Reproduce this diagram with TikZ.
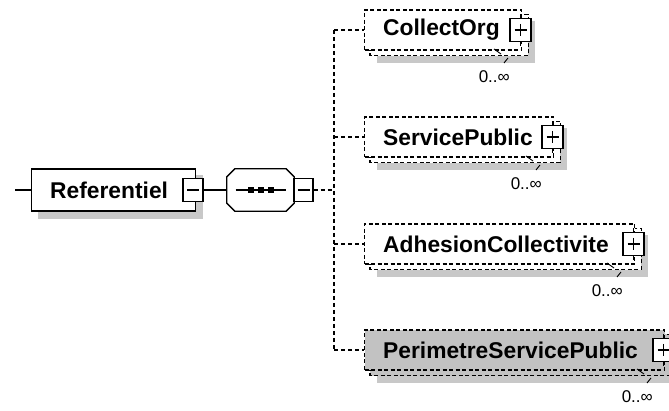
\documentclass[tikz,border=0pt]{standalone}
\usepackage{fontspec}
\setmainfont{Liberation Sans}
\usepackage{tikz}
\usetikzlibrary{positioning,backgrounds}

\definecolor{shadowgray}{RGB}{200,200,200}
\definecolor{optfill}{RGB}{194,194,194}

\tikzset{
  box/.style={draw, line width=1.3pt, inner sep=0pt, anchor=west},
  optline/.style={line width=1.2pt, dash pattern=on 4pt off 2.5pt},
  optional/.style={box, optline},
  name text/.style={font=\bfseries\fontsize{22.8}{26}\selectfont, inner sep=0pt},
  occurs/.style={font=\fontsize{17}{20}\selectfont, inner sep=0pt, anchor=east},
  toggle/.style={draw, fill=white, line width=1.3pt, minimum width=20, minimum height=23, inner sep=0pt},
  link/.style={line width=1.3pt},
  optlink/.style={line width=1.2pt, dash pattern=on 4pt off 3pt},
  octshadow/.style={fill=shadowgray},
  octbody/.style={link, draw, fill=white},
}

\begin{document}
\begin{tikzpicture}[x=1pt, y=-1pt]
\useasboundingbox (0,0) rectangle (669,411);
\clip (0,0) rectangle (669,411);

% root element
\coordinate (start) at (15,190);
\node [box, fill=white, minimum width=164, minimum height=42] (ref) at (31,190) {};
\begin{scope}[on background layer]
  \fill [shadowgray] ([shift={(7,7)}]ref.north west) rectangle ([shift={(7,7)}]ref.south east);
\end{scope}
\node [name text, right=19pt of ref.west] (ref-t) {Referentiel};
\node [toggle] (ref-x) at (193,190) {};
\draw [link] (ref-x.center) +(-6,0) -- +(6,0);

% sequence
\node [inner sep=0pt, minimum width=67, minimum height=42] (seq) at (260.5,190) {};
\foreach \s/\sty in {7/octshadow, 0/octbody}
  \path [\sty, shift={(\s,\s)}]
    ([shift={(8,0)}]seq.north west) -- ([shift={(-8,0)}]seq.north east)
    -- ([shift={(0,8)}]seq.north east) -- ([shift={(0,-8)}]seq.south east)
    -- ([shift={(-8,0)}]seq.south east) -- ([shift={(8,0)}]seq.south west)
    -- ([shift={(0,-8)}]seq.south west) -- ([shift={(0,8)}]seq.north west) -- cycle;
\draw [link] (seq.center) +(-25,0) -- +(25,0);
\foreach \dx in {-10,0,10}
  \fill (seq.center) +(\dx-3,-3) rectangle +(\dx+3,3);
\node [toggle, minimum width=19] (seq-x) at (303.5,190) {};
\draw [link] (seq-x.center) +(-6,0) -- +(6,0);

\draw [link] (start) -- (ref.west);
\draw [link] (ref-x.east) -- (seq.west);

% children
\foreach \name/\txt/\y/\r/\col in {collect/CollectOrg/30/521/white,
    service/ServicePublic/137/553/white,
    adhesion/AdhesionCollectivite/244/634/white,
    perimetre/PerimetreServicePublic/350/664/optfill}
{
  \coordinate (\name-in) at (334,\y);
  \node [optional, fill=\col, minimum width=\r-364, minimum height=40] (\name) at (364,\y) {};
  \begin{scope}[on background layer]
    \fill [shadowgray] ([shift={(13,12)}]\name.north west) rectangle ([shift={(13,12)}]\name.south east);
    \filldraw [optline, fill=\col] ([shift={(6,5)}]\name.north west) rectangle ([shift={(6,5)}]\name.south east);
  \end{scope}
  \node [name text, right=19pt of \name.west] (\name-t) {\txt};
  \node [toggle, minimum width=21] (\name-x) at (\r-0.5,\y) {};
  \draw [link] (\name-x.center) +(-6,0) -- +(6,0) +(0,-6) -- +(0,6);
  \draw [link] (\name-x.north) -- +(0,-4) (\name-x.south) -- +(0,4);
  \draw [line width=0.9pt] (\r-27,\y+19) -- (\r-20,\y+24) (\r-13,\y+28) -- (\r-17,\y+33);
  \node [occurs] (\name-n) at (\r-11,\y+47) {0..∞};
  \draw [optlink] (\name-in) -- (\name.west);
}

\draw [optlink] (collect-in) -- (perimetre-in);
\draw [optlink] (seq-x.east) -- (seq-x.east -| collect-in);

\end{tikzpicture}
\end{document}
